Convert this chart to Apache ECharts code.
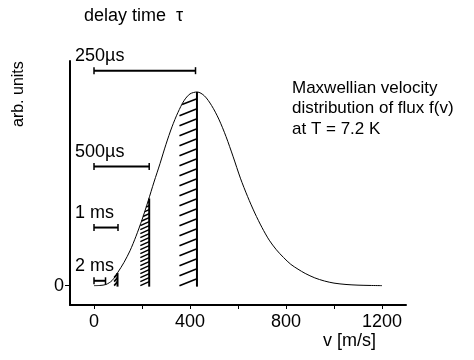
<!DOCTYPE html>
<html><head><meta charset="utf-8">
<script src="https://cdn.jsdelivr.net/npm/echarts@6/dist/echarts.min.js"></script>
<style>html,body{margin:0;padding:0;background:#fff}#c{width:474px;height:360px}</style>
</head><body><div id="c"></div>
<script>
// ---- data ----
var velocity = [0,25,50,75,100,125,150,175,200,225,250,275,300,325,350,375,400,430,460,490,520,550,580,610,640,670,700,730,760,790,820,850,880,920,960,1000,1050,1100,1150,1200];
var flux = [0,0.1,0.6,2.6,7,12,18,25.5,34,43.5,53.5,63,73,82,89.5,95.5,99,100,98,93,86,77,66.5,55.5,46,37.5,30,23.5,18.5,14.5,11,8.5,6.3,4,2.4,1.3,0.6,0.25,0.1,0];
var barLabels = ["250\u00b5s","500\u00b5s","1 ms","2 ms"];
var barLevel = [111, 61.5, 30, 2.5];
var barEnd = [423, 230, 100, 48];
var hatchStart = [356, 193, 84];
var hatchEnd = [429, 230, 98];
var hatchTop = [100, 45, 6.5];
var xTickValues = [0,200,400,600,800,1000,1200];
var xLabelValues = [0,400,800,1200];
var yLabelValues = [0];

var FONT = 'Liberation Sans, Arial, sans-serif';
var chart = echarts.init(document.getElementById('c'));

function curveAt(v){
  for (var i=0;i<velocity.length-1;i++){
    if (v>=velocity[i] && v<=velocity[i+1]){
      var t=(v-velocity[i])/(velocity[i+1]-velocity[i]);
      return flux[i]+t*(flux[i+1]-flux[i]);
    }
  }
  return 0;
}

var curveData = velocity.map(function(v,i){return [v,flux[i]];});
var barData = barLabels.map(function(l,i){return [barEnd[i], barLevel[i], i];});
var hatchData = hatchStart.map(function(s,i){return [s, hatchEnd[i], hatchTop[i]];});

chart.setOption({
  animation:false,
  grid:{left:70,right:68,top:61,bottom:55},
  xAxis:{type:'value',min:-100,max:1300,
    axisLine:{onZero:false,lineStyle:{color:'#000',width:2}},
    axisTick:{customValues:xTickValues,length:4,lineStyle:{color:'#000',width:1}},
    axisLabel:{customValues:xLabelValues,formatter:function(v){return String(v);},color:'#000',fontSize:18,fontFamily:FONT,margin:8},
    splitLine:{show:false}},
  yAxis:{type:'value',min:-10,max:116,
    axisLine:{show:true,onZero:false,lineStyle:{color:'#000',width:2}},
    axisTick:{show:true,customValues:yLabelValues,length:5,lineStyle:{color:'#000',width:1}},
    axisLabel:{customValues:yLabelValues,color:'#000',fontSize:18,fontFamily:FONT,margin:6},
    splitLine:{show:false}},
  graphic:[
    {type:'text',left:84,top:7,style:{text:'delay time  \u03c4',fontSize:18,fontFamily:FONT,fill:'#000'}},
    {type:'text',x:11,y:127,rotation:Math.PI/2,style:{text:'arb. units',fontSize:16,fontFamily:FONT,fill:'#000'}},
    {type:'text',left:323,top:332,style:{text:'v [m/s]',fontSize:18,fontFamily:FONT,fill:'#000'}},
    {type:'text',left:292,top:78,style:{text:'Maxwellian velocity\ndistribution of flux f(v)\nat T = 7.2 K',fontSize:17,lineHeight:20.5,fontFamily:FONT,fill:'#000'}}
  ],
  series:[
    {type:'line',data:curveData,smooth:0.3,showSymbol:false,lineStyle:{color:'#000',width:1},z:3},
    {type:'custom',data:hatchData,z:2,renderItem:function(params,api){
      var v0=api.value(0),v1=api.value(1),top=api.value(2);
      var pL=api.coord([v0,0]),pR=api.coord([v1,0]),pT=api.coord([v1,top]);
      var x0=api.coord([0,0])[0], pxPer100=api.coord([100,0])[0]-x0;
      var wide = (pR[0]-pL[0])>12;
      var spacing = wide?10:4, rise = wide?7:4;
      var children=[{type:'line',shape:{x1:pR[0],y1:pR[1]+1,x2:pT[0],y2:pT[1]},style:{stroke:'#000',lineWidth:2}}];
      for (var yb=pL[1]; yb-rise>=pT[1]-2; yb-=spacing){
        var xl=pL[0], yl=yb, xr=pR[0], yr=yb-rise;
        for (var k=0;k<=20;k++){
          var t=k/20, x=xl+t*(xr-xl), y=yl+t*(yr-yl);
          var vx=(x-x0)/pxPer100*100;
          var cy=api.coord([vx,curveAt(vx)])[1];
          if (y>=cy-0.5){ xl=x; yl=y; break; }
        }
        children.push({type:'line',shape:{x1:xl,y1:yl,x2:xr,y2:yr},style:{stroke:'#000',lineWidth:1.6}});
      }
      return {type:'group',children:children};
    }},
    {type:'custom',data:barData,z:4,renderItem:function(params,api){
      var p0=api.coord([0,api.value(1)]),p1=api.coord([api.value(0),api.value(1)]);
      var lbl=barLabels[api.value(2)];
      return {type:'group',children:[
        {type:'line',shape:{x1:p0[0],y1:p0[1],x2:p1[0],y2:p1[1]},style:{stroke:'#000',lineWidth:2}},
        {type:'line',shape:{x1:p0[0],y1:p0[1]-3.5,x2:p0[0],y2:p0[1]+3.5},style:{stroke:'#000',lineWidth:1.5}},
        {type:'line',shape:{x1:p1[0],y1:p1[1]-3.5,x2:p1[0],y2:p1[1]+3.5},style:{stroke:'#000',lineWidth:1.5}},
        {type:'text',x:p0[0]-19,y:p0[1]-15,style:{text:lbl,fontSize:18,fontFamily:FONT,fill:'#000',verticalAlign:'middle',align:'left'}}
      ]};
    }}
  ]
});
</script></body></html>
